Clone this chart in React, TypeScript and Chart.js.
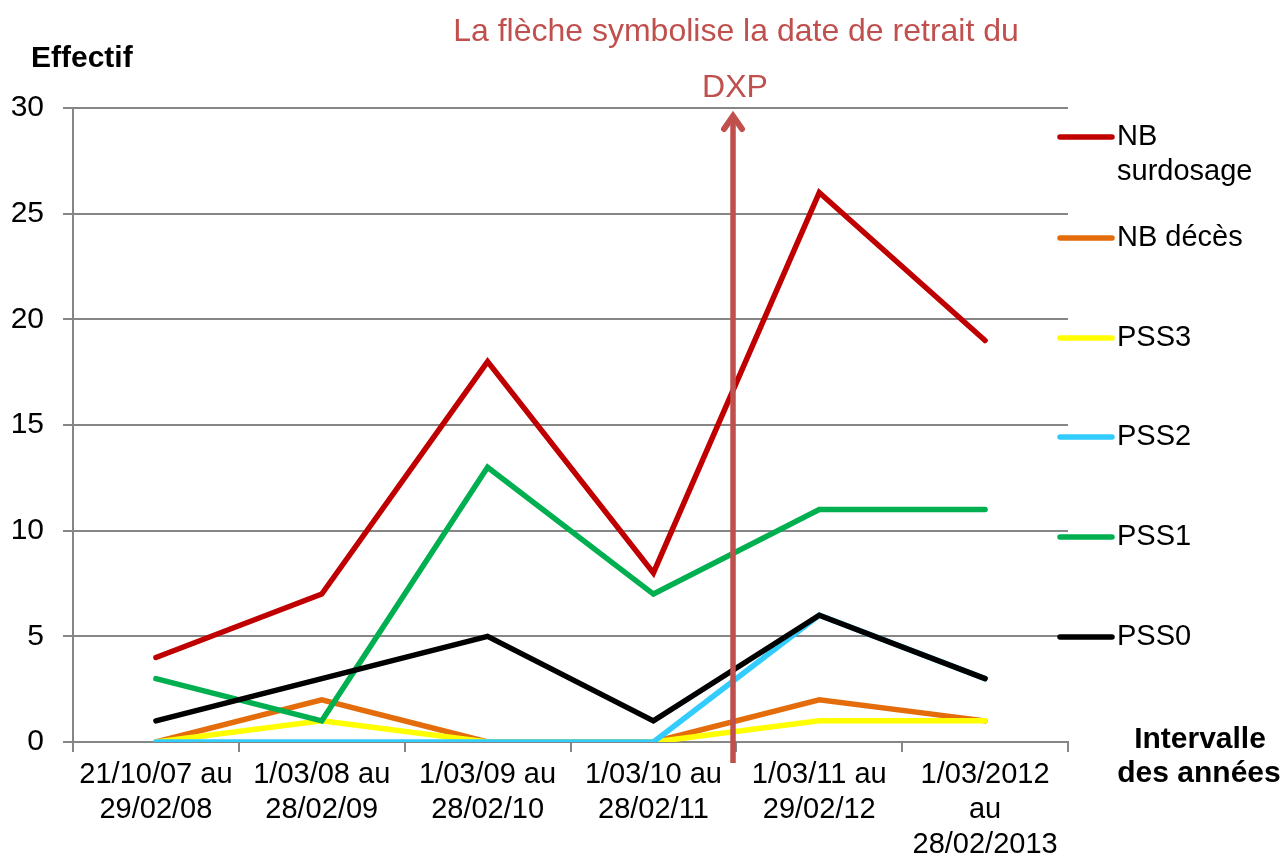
import React, { useEffect, useRef } from "react";
import { Chart, registerables } from "chart.js";

Chart.register(...registerables);

const categories: string[][] = [
  ["21/10/07 au", "29/02/08"],
  ["1/03/08 au", "28/02/09"],
  ["1/03/09 au", "28/02/10"],
  ["1/03/10 au", "28/02/11"],
  ["1/03/11 au", "29/02/12"],
  ["1/03/2012", "au", "28/02/2013"],
];

const seriesNames = ["NB surdosage", "NB décès", "PSS3", "PSS2", "PSS1", "PSS0"];
const legendLabels: string[][] = [["NB", "surdosage"], ["NB décès"], ["PSS3"], ["PSS2"], ["PSS1"], ["PSS0"]];
const nbSurdosage = [4, 7, 18, 8, 26, 19];
const nbDeces = [0, 2, 0, 0, 2, 1];
const pss3 = [0, 1, 0, 0, 1, 1];
const pss2 = [0, 0, 0, 0, 6, 3];
const pss1 = [3, 1, 13, 7, 11, 11];
const pss0 = [1, 3, 5, 1, 6, 3];
const seriesColors = ["#c00000", "#e46c0a", "#ffff00", "#33ccff", "#00b050", "#000000"];
const yTicks = { min: 0, max: 30, step: 5 };

const arrowPosition = 3.48; // between 4th and 5th interval
const titleLines = ["La flèche symbolise la date de retrait du", "DXP"];
const yTitle = "Effectif";
const xTitle = ["Intervalle", "des années"];

const FONT = '"Liberation Sans", Arial, sans-serif';
const ANNOT = "#c0504d";

const overlayPlugin = {
  id: "overlay",
  afterDatasetsDraw(chart: any) {
    const { ctx, scales } = chart;
    const x = scales.x.getPixelForValue(arrowPosition);
    const yBottom = scales.y.getPixelForValue(0) + 21;
    const tip = chart.chartArea.top + 5;
    ctx.save();
    ctx.strokeStyle = ANNOT;
    ctx.lineWidth = 5.5;
    ctx.lineCap = "butt";
    ctx.beginPath();
    ctx.moveTo(x, yBottom);
    ctx.lineTo(x, tip + 4);
    ctx.stroke();
    ctx.lineCap = "round";
    ctx.lineJoin = "miter";
    ctx.lineWidth = 6;
    ctx.beginPath();
    ctx.moveTo(x - 9, tip + 16);
    ctx.lineTo(x, tip + 3);
    ctx.lineTo(x + 9, tip + 16);
    ctx.stroke();
    ctx.restore();
  },
  afterDraw(chart: any) {
    const { ctx } = chart;
    ctx.save();
    // annotation title
    ctx.fillStyle = ANNOT;
    ctx.font = `32px ${FONT}`;
    ctx.textAlign = "center";
    ctx.textBaseline = "alphabetic";
    ctx.fillText(titleLines[0], 736, 41);
    ctx.fillText(titleLines[1], 735, 97);
    // axis titles
    ctx.fillStyle = "#000";
    ctx.font = `bold 30px ${FONT}`;
    ctx.textAlign = "left";
    ctx.textBaseline = "middle";
    ctx.fillText(yTitle, 31, 59);
    ctx.textAlign = "center";
    ctx.fillText(xTitle[0], 1200, 740);
    ctx.fillText(xTitle[1], 1199, 774);
    // legend
    const legendY = [137, 238, 338, 437, 537, 637];
    ctx.font = `29px ${FONT}`;
    ctx.textAlign = "left";
    legendLabels.forEach((lines, i) => {
      const y = legendY[i];
      ctx.strokeStyle = seriesColors[i];
      ctx.lineWidth = 5.5;
      ctx.lineCap = "round";
      ctx.beginPath();
      ctx.moveTo(1060, y);
      ctx.lineTo(1112, y);
      ctx.stroke();
      ctx.fillStyle = "#000";
      lines.forEach((t, j) => ctx.fillText(t, 1117, y + j * 35));
    });
    ctx.restore();
  },
};

export default function App() {
  const ref = useRef<HTMLCanvasElement | null>(null);
  useEffect(() => {
    if (!ref.current) return;
    const values = [nbSurdosage, nbDeces, pss3, pss2, pss1, pss0];
    const chart = new Chart(ref.current, {
      type: "line",
      data: {
        labels: categories,
        datasets: values.map((d, i) => ({
          label: seriesNames[i],
          data: d,
          borderColor: seriesColors[i],
          backgroundColor: seriesColors[i],
          borderWidth: 5.5,
          pointRadius: 0,
          tension: 0,
          fill: false,
          borderCapStyle: "round",
          borderJoinStyle: "miter",
          order: values.length - 1 - i,
        })),
      },
      options: {
        responsive: false,
        animation: false,
        layout: { padding: { top: 108, right: 219, left: 0, bottom: 0 } },
        plugins: { legend: { display: false }, tooltip: { enabled: false }, title: { display: false } },
        scales: {
          x: {
            type: "category",
            offset: true,
            grid: {
              offset: true,
              drawOnChartArea: false,
              drawTicks: true,
              tickLength: 10,
              color: "#868686",
              lineWidth: 2,
            },
            border: { display: true, color: "#868686", width: 2 },
            ticks: {
              color: "#000",
              font: { family: FONT, size: 29, lineHeight: 1.2 },
              padding: 6,
              maxRotation: 0,
              autoSkip: false,
            },
            afterFit: (s: any) => {
              s.height = 115;
            },
          },
          y: {
            min: yTicks.min,
            max: yTicks.max,
            ticks: {
              stepSize: yTicks.step,
              color: "#000",
              font: { family: FONT, size: 30 },
              padding: 19,
            },
            grid: { color: "#868686", lineWidth: 2, tickLength: 10, drawTicks: true },
            border: { display: true, color: "#868686", width: 2 },
            afterFit: (s: any) => {
              s.width = 73;
            },
          },
        },
      },
      plugins: [overlayPlugin],
    });
    return () => chart.destroy();
  }, []);
  return (
    <div style={{ position: "absolute", left: 0, top: 0, width: 1287, height: 857, background: "#fff" }}>
      <canvas ref={ref} width={1287} height={857} style={{ display: "block" }} />
    </div>
  );
}
